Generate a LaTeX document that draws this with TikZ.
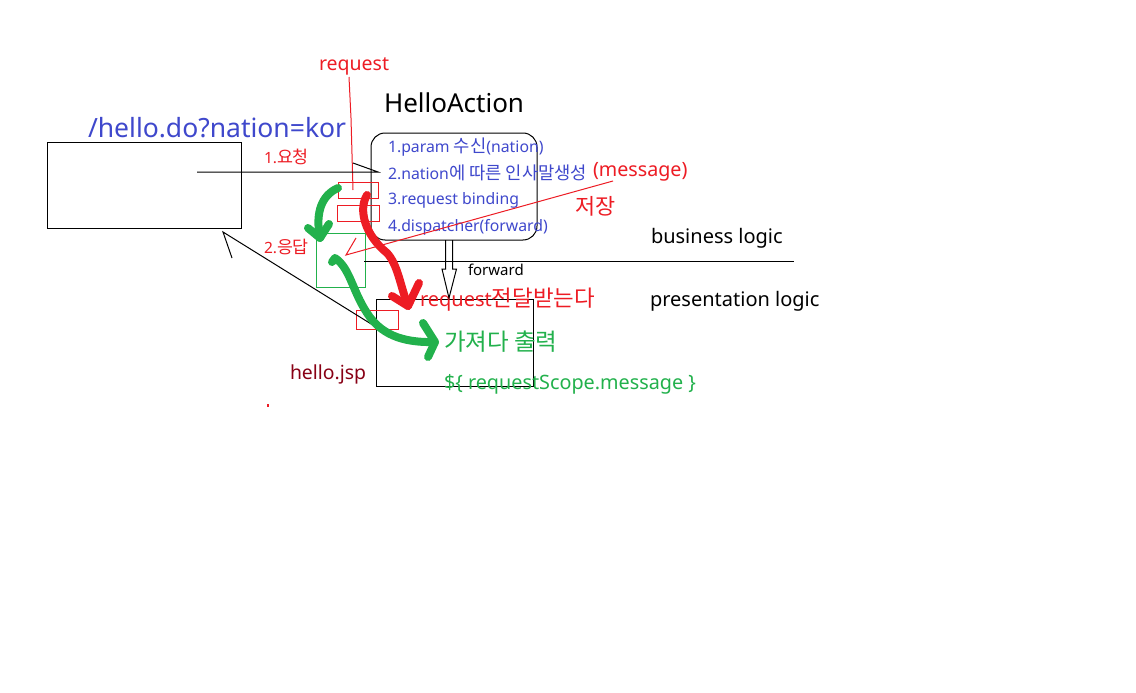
\documentclass[tikz,border=0pt]{standalone}
\usepackage{fontspec}
\setmainfont{Noto Sans}
\newfontfamily\kr[Scale=1.12]{Noto Sans CJK KR}
\definecolor{pblue}{RGB}{63,72,204}
\definecolor{pred}{RGB}{237,28,36}
\definecolor{pgreen}{RGB}{34,177,76}
\definecolor{pdark}{RGB}{136,0,21}
\begin{document}
\begin{tikzpicture}[x=1pt,y=-1pt,
  lbl/.style={anchor=west, inner sep=0pt, outer sep=0pt},
  fs/.style={font=\fontsize{#1}{#1}\selectfont},
  boxnode/.style={draw=black, line width=1pt, inner sep=0pt, outer sep=0pt},
  redbox/.style={draw=pred, line width=1pt, inner sep=0pt, outer sep=0pt},
  thinline/.style={line width=1pt, black},
  redline/.style={line width=1pt, pred},
  thick stroke/.style={line width=8pt, line cap=round, line join=round}]
\useasboundingbox (0,0) rectangle (1136,693);
\fill[white] (0,0) rectangle (1136,693);

% boxes
\node[boxnode, minimum width=194pt, minimum height=86pt] (client) at (144,185) {};
\node[boxnode, rounded corners=14pt, minimum width=166pt, minimum height=107pt] (action) at (454,186.5) {};
\node[boxnode, minimum width=157pt, minimum height=87pt] (jsp) at (454.5,342.5) {};
\node[draw=pgreen, line width=1pt, inner sep=0pt, outer sep=0pt, minimum width=49pt, minimum height=54pt] (resp) at (340.5,260) {};
\node[redbox, minimum width=40pt, minimum height=16pt] (rb1) at (358,190) {};
\node[redbox, minimum width=42pt, minimum height=16pt] (rb2) at (358,213) {};
\node[redbox, minimum width=42pt, minimum height=19pt] (rb3) at (377,319.5) {};

% texts
\node[lbl, fs=26.5, text=pblue] (url) at (88,128) {/hello.do?nation=kor};
\node[lbl, fs=26] (title) at (384,103) {HelloAction};
\node[lbl, fs=19.5, text=pred] (reqlbl) at (319,66) {request};
\node[lbl, fs=15.5, text=pred] (req1) at (264,157) {1.{\kr 요청}};
\node[lbl, fs=15.5, text=pred] (resp2) at (264,247) {2.{\kr 응답}};
\node[lbl, fs=15.8, text=pblue] (s1) at (388,147) {1.param {\kr 수신}(nation)};
\node[lbl, fs=15.8, text=pblue] (s2) at (388,173) {2.nation{\kr 에 따른 인사말생성}};
\node[lbl, fs=15.8, text=pblue] (s3) at (388,200) {3.request binding};
\node[lbl, fs=15.8, text=pblue] (s4) at (388,227) {4.dispatcher(forward)};
\node[lbl, fs=19.7, text=pred] (msg) at (593,172) {(message)};
\node[lbl, fs=19.5, text=pred] (save) at (575,206) {\kr 저장};
\node[lbl, fs=20] (biz) at (651,238) {business logic};
\node[lbl, fs=20] (pres) at (650,301) {presentation logic};
\node[lbl, fs=15] (fwd) at (468,270) {forward};
\node[lbl, fs=20, text=pred] (recv) at (420,300) {request{\kr 전달받는다}};
\node[lbl, fs=21, text=pgreen] (out) at (444,342) {\kr 가져다 출력};
\node[lbl, fs=19.8, text=pgreen] (el) at (444,384) {\$\{ requestScope.message \}};
\node[lbl, fs=19.4, text=pdark] (jsplbl) at (290,374) {hello.jsp};

% coordinates for connector ends
\coordinate (rq0) at (349,77);
\coordinate (rq1) at (351,118);
\coordinate (rq2) at (353,190);
\coordinate (reqA) at (197,172);
\coordinate (reqB) at (378,172);
\coordinate (respA) at (376,327);
\coordinate (respB) at (223,232);
\coordinate (saveA) at (613,181);
\coordinate (saveB) at (346,255);
\coordinate (divA) at (364,261);
\coordinate (divB) at (794,261);

% thin connectors
\draw[redline] (rq0) -- (rq1) -- (rq2);
\draw[thinline] (reqA) -- (reqB) -- ++(-25,-9);
\draw[thinline] (respA) -- (respB) -- ++(9,26);
\draw[redline] (saveA) -- (saveB) -- ++(10,-17);
\draw[thinline] (divA) -- (divB);

% forward hollow arrow
\draw[thinline, line join=miter] (445.5,240) -- (445.5,269) -- (442,269) -- (449,298) -- (456.5,269) -- (452.5,269) -- (452.5,240);

% thick green arrow 1
\coordinate (g1s) at (338,188);
\coordinate (g1t) at (320,238);
\draw[thick stroke, pgreen] (g1s) .. controls (322,195) and (315,212) .. (g1t);
\draw[thick stroke, pgreen] (308,228) -- (g1t) -- (329,224);

% thick red arrow
\coordinate (r1s) at (367,195);
\coordinate (r1m) at (387,253);
\coordinate (r1t) at (408,306);
\draw[thick stroke, pred] (r1s) .. controls (358,210) and (365,235) .. (r1m) .. controls (398,265) and (400,285) .. (r1t);
\draw[thick stroke, pred] (392,296) -- (r1t) -- (419,283);

% thick green arrow 2
\coordinate (g2s) at (335,258);
\coordinate (g2m) at (367,313);
\coordinate (g2t) at (435,342);
\draw[thick stroke, pgreen] (332,262) -- (g2s) .. controls (350,268) and (352,290) .. (g2m) .. controls (380,333) and (400,343) .. (g2t);
\draw[thick stroke, pgreen] (423,323) -- (g2t) -- (428,357);

% dot
\fill[pred] (267,404) rectangle (269,407);
\end{tikzpicture}
\end{document}
